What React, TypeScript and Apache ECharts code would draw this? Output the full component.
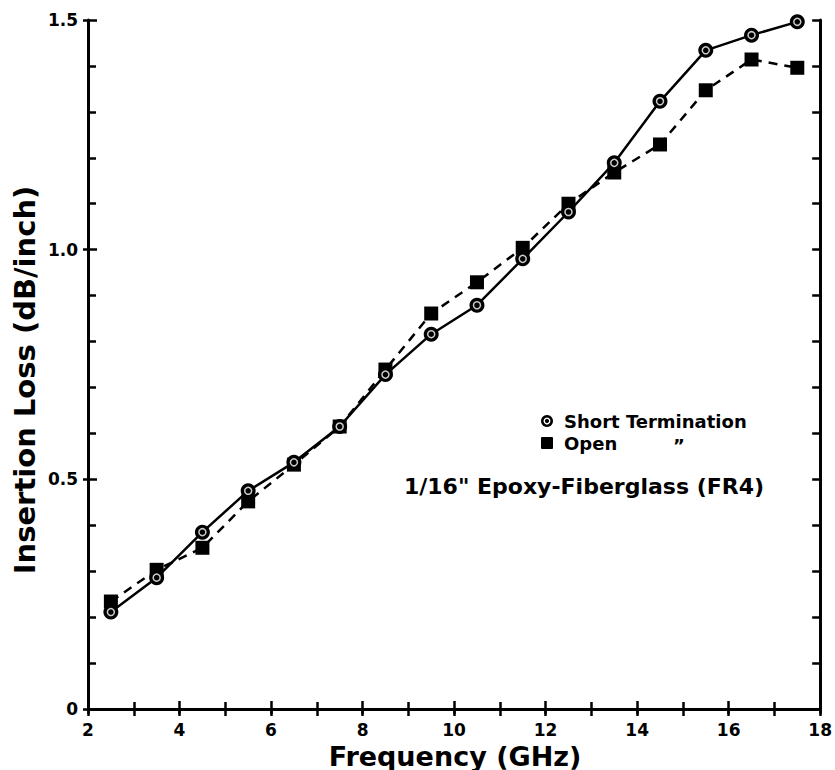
import React, { useEffect, useRef } from "react";
import * as echarts from "echarts";

const frequencies = [2.5, 3.5, 4.5, 5.5, 6.5, 7.5, 8.5, 9.5, 10.5, 11.5, 12.5, 13.5, 14.5, 15.5, 16.5, 17.5];
const shortTermination = [0.211, 0.286, 0.385, 0.475, 0.537, 0.615, 0.728, 0.816, 0.879, 0.98, 1.082, 1.189, 1.323, 1.434, 1.467, 1.496];
const openTermination = [0.234, 0.303, 0.351, 0.452, 0.532, 0.615, 0.739, 0.861, 0.929, 1.004, 1.1, 1.168, 1.229, 1.347, 1.414, 1.396];
const yTickLabels: Record<string, string> = { "0": "0", "0.5": "0.5", "1": "1.0", "1.5": "1.5" };

const xTitle = "Frequency (GHz)";
const yTitle = "Insertion Loss (dB/inch)";
const legendShort = "Short Termination";
const legendOpen = "Open";
const noteText = '1/16" Epoxy-Fiberglass (FR4)';

const FONT = "'DejaVu Sans', sans-serif";

export default function App() {
  const ref = useRef<HTMLDivElement>(null);
  useEffect(() => {
    document.body.style.margin = "0";
    const chart = echarts.init(ref.current!, null, { renderer: "svg" });
    const shortPairs = frequencies.map((f, i) => [f, shortTermination[i]]);
    const openPairs = frequencies.map((f, i) => [f, openTermination[i]]);
    const axisLine = { show: true, lineStyle: { color: "#000", width: 3 } };
    const option: any = {
      animation: false,
      backgroundColor: "#fff",
      grid: { left: 88, right: 12, top: 20, bottom: 61, containLabel: false },
      xAxis: [
        {
          type: "value", position: "bottom", min: 2, max: 18, interval: 2,
          axisLine,
          axisTick: { show: true, inside: true, length: 8, lineStyle: { color: "#000", width: 2.5 } },
          minorTick: { show: true, splitNumber: 2, length: 7, lineStyle: { color: "#000", width: 2.5 } },
          splitLine: { show: false },
          axisLabel: { margin: 12, color: "#000", fontFamily: FONT, fontWeight: "bold", fontSize: 17, lineHeight: 17 },
        },
        {
          type: "value", position: "top", min: 2, max: 18, interval: 1,
          axisLine,
          axisTick: { show: true, inside: true, length: 7, lineStyle: { color: "#000", width: 2.5 } },
          splitLine: { show: false },
          axisLabel: { show: false },
        },
        {
          type: "value", position: "bottom", min: 2, max: 18, interval: 2,
          axisLine: { show: false },
          axisTick: { show: true, inside: false, length: 5, lineStyle: { color: "#000", width: 2.5 } },
          splitLine: { show: false },
          axisLabel: { show: false },
        },
      ],
      yAxis: [
        {
          type: "value", position: "left", min: 0, max: 1.5, interval: 0.5,
          axisLine,
          axisTick: { show: true, inside: true, length: 9, lineStyle: { color: "#000", width: 2.5 } },
          minorTick: { show: true, splitNumber: 5, length: 8, lineStyle: { color: "#000", width: 2.5 } },
          splitLine: { show: false },
          axisLabel: {
            margin: 10, color: "#000", fontFamily: FONT, fontWeight: "bold", fontSize: 17,
            formatter: (v: number) => yTickLabels[String(v)] ?? String(v),
          },
        },
        {
          type: "value", position: "left", min: 0, max: 1.5, interval: 0.5,
          axisLine: { show: false },
          axisTick: { show: true, inside: false, length: 5, lineStyle: { color: "#000", width: 2.5 } },
          splitLine: { show: false },
          axisLabel: { show: false },
        },
        {
          type: "value", position: "right", min: 0, max: 1.5, interval: 0.5,
          axisLine,
          axisTick: { show: true, inside: true, length: 8, lineStyle: { color: "#000", width: 2.5 } },
          minorTick: { show: true, splitNumber: 5, length: 8, lineStyle: { color: "#000", width: 2.5 } },
          splitLine: { show: false },
          axisLabel: { show: false },
        },
      ],
      series: [
        {
          name: "Open", type: "line", data: openPairs,
          symbol: "rect", symbolSize: 14,
          lineStyle: { color: "#000", width: 2.5, type: [9, 7] },
          itemStyle: { color: "#000" },
          z: 2,
        },
        {
          name: "Short Termination", type: "line", data: shortPairs,
          symbol: "circle", symbolSize: 15,
          lineStyle: { color: "#000", width: 2.5 },
          itemStyle: { color: "#000" },
          z: 3,
        },
        {
          name: "Short ring", type: "scatter", data: shortPairs,
          symbol: "circle", symbolSize: 7,
          itemStyle: { color: "#000", borderColor: "#fff", borderWidth: 1.5 },
          z: 4,
        },
      ],
      graphic: [
        {
          type: "text", x: 455, y: 756,
          style: { text: xTitle, fill: "#000", font: `bold 27px ${FONT}`, lineHeight: 27, align: "center", verticalAlign: "middle" },
        },
        {
          type: "text", x: 25, y: 380, rotation: Math.PI / 2,
          style: { text: yTitle, fill: "#000", font: `bold 29px ${FONT}`, align: "center", verticalAlign: "middle" },
        },
        { type: "circle", shape: { cx: 547, cy: 421, r: 6 }, style: { fill: "#000" } },
        { type: "circle", shape: { cx: 547, cy: 421, r: 2.8 }, style: { fill: "#000", stroke: "#fff", lineWidth: 1.3 } },
        {
          type: "text", x: 564, y: 421,
          style: { text: legendShort, fill: "#000", font: `bold 18px ${FONT}`, align: "left", verticalAlign: "middle" },
        },
        { type: "rect", shape: { x: 541, y: 437, width: 12, height: 12, r: 1 }, style: { fill: "#000" } },
        {
          type: "text", x: 564, y: 443,
          style: { text: legendOpen, fill: "#000", font: `bold 18px ${FONT}`, align: "left", verticalAlign: "middle" },
        },
        {
          type: "text", x: 679, y: 445,
          style: { text: "\u201D", fill: "#000", font: `bold 18px ${FONT}`, align: "center", verticalAlign: "middle" },
        },
        {
          type: "text", x: 584, y: 486,
          style: { text: noteText, fill: "#000", font: `bold 22px ${FONT}`, align: "center", verticalAlign: "middle" },
        },
      ],
    };
    chart.setOption(option);
    return () => chart.dispose();
  }, []);
  return <div ref={ref} style={{ position: "absolute", left: 0, top: 0, width: 835, height: 770 }} />;
}
